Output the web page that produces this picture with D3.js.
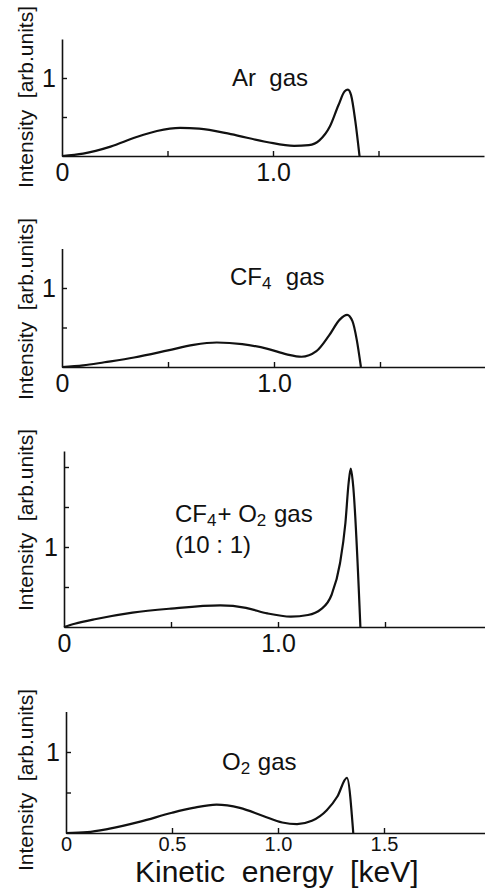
<!DOCTYPE html>
<html>
<head>
<meta charset="utf-8">
<script src="https://cdn.jsdelivr.net/npm/d3@7"></script>
<style>
	body { margin: 0; background: #fff; }
	text { font-family: "Liberation Sans", Arial, sans-serif; fill: #111; }
</style>
</head>
<body>
<div id="chart"></div>
<script>
// spectra: [kinetic energy keV, intensity arb.units]
const arGas = [[0,0],[0.1,0.03],[0.23,0.12],[0.35,0.24],[0.45,0.32],[0.56,0.36],[0.65,0.35],[0.8,0.28],[0.97,0.18],[1.1,0.13],[1.17,0.14],[1.22,0.2],[1.27,0.38],[1.31,0.65],[1.34,0.83],[1.355,0.85],[1.37,0.78],[1.39,0.45],[1.41,0]];
const cf4Gas = [[0,0],[0.1,0.02],[0.2,0.06],[0.34,0.12],[0.5,0.21],[0.62,0.28],[0.73,0.31],[0.85,0.29],[0.97,0.23],[1.06,0.16],[1.13,0.13],[1.2,0.2],[1.26,0.4],[1.31,0.6],[1.345,0.66],[1.37,0.58],[1.39,0.35],[1.41,0]];
const cf4o2Gas = [[0,0],[0.05,0.04],[0.15,0.1],[0.32,0.18],[0.5,0.23],[0.73,0.27],[0.85,0.24],[0.95,0.17],[1.06,0.13],[1.14,0.15],[1.2,0.22],[1.25,0.4],[1.29,0.8],[1.315,1.3],[1.33,1.8],[1.34,1.98],[1.35,1.8],[1.385,0]];
const o2Gas = [[0,0],[0.1,0.01],[0.2,0.05],[0.35,0.14],[0.5,0.25],[0.6,0.31],[0.71,0.35],[0.82,0.31],[0.93,0.21],[1.02,0.13],[1.09,0.11],[1.16,0.15],[1.23,0.28],[1.28,0.45],[1.325,0.68],[1.355,0]];

const xTicks = [0, 0.5, 1.0, 1.5];
const xLabelsShort = ['0', '', '1.0', ''];
const xLabelsFull = ['0', '0.5', '1.0', '1.5'];
const yTicks = [0.5, 1];
const yTicksTall = [0.5, 1, 1.5, 2];
const yLabel = 'Intensity  [arb.units]';
const xTitle = 'Kinetic  energy  [keV]';

const width = 485;
const height = 893;

const svg = d3.select('#chart')
	.append('svg')
	.attr('width', width)
	.attr('height', height);

// one entry per panel: where it sits on the page
const panels = [
	{ data: arGas, x0: 62, x1: 484, base: 156, unit: 78, yMax: 1.5, yt: yTicks, xl: xLabelsShort, fs: 25, pad: 7, labelY: 97,
	  title: [['Ar  gas']], tx: 232, ty: 86 },
	{ data: cf4Gas, x0: 62, x1: 486, base: 367, unit: 79, yMax: 1.5, yt: yTicks, xl: xLabelsShort, fs: 25, pad: 7, labelY: 309,
	  title: [['CF'], ['4', 'sub'], ['  gas']], tx: 230, ty: 285 },
	{ data: cf4o2Gas, x0: 64, x1: 492, base: 627, unit: 80, yMax: 2.2, yt: yTicksTall, xl: xLabelsShort, fs: 25, pad: 7, labelY: 520,
	  title: [['CF'], ['4', 'sub'], ['+ O'], ['2', 'sub'], [' gas']], tx: 175, ty: 522, title2: '(10 : 1)' },
	{ data: o2Gas, x0: 66, x1: 490, base: 833, unit: 81, yMax: 1.5, yt: yTicks, xl: xLabelsFull, fs: 20, pad: 4, labelY: 780,
	  title: [['O'], ['2', 'sub'], [' gas']], tx: 222, ty: 770 }
];

panels.forEach(p => {
	const x = d3.scaleLinear().domain([0, 2]).range([p.x0, p.x1]);
	const y = d3.scaleLinear().domain([0, p.yMax]).range([p.base, p.base - p.unit * p.yMax]);
	const g = svg.append('g');

	const xAxis = d3.axisBottom(x)
		.tickValues(xTicks)
		.tickFormat((d, i) => p.xl[i])
		.tickSizeInner(-5)
		.tickSizeOuter(0)
		.tickPadding(p.pad);

	const gx = g.append('g')
		.attr('transform', `translate(0,${p.base})`)
		.call(xAxis);
	gx.select('.domain').attr('stroke', '#111').attr('stroke-width', 1.6);
	gx.selectAll('.tick line').attr('stroke', '#111').attr('stroke-width', 1.4)
		.filter(d => d === 0).remove();
	gx.selectAll('.tick text')
		.attr('fill', '#111')
		.style('font-size', p.fs + 'px')
		.attr('dy', '0.72em');

	const yAxis = d3.axisLeft(y)
		.tickValues(p.yt)
		.tickFormat(d => d === 1 ? '1' : '')
		.tickSizeInner(-5)
		.tickSizeOuter(0)
		.tickPadding(6);

	const gy = g.append('g')
		.attr('transform', `translate(${p.x0},0)`)
		.call(yAxis);
	gy.select('.domain').attr('stroke', '#111').attr('stroke-width', 1.6);
	gy.selectAll('.tick line').attr('stroke', '#111').attr('stroke-width', 1.4);
	gy.selectAll('.tick text')
		.attr('fill', '#111')
		.style('font-size', '25px');

	const line = d3.line()
		.x(d => x(d[0]))
		.y(d => y(d[1]))
		.curve(d3.curveMonotoneX);

	g.append('path')
		.datum(p.data)
		.attr('d', line)
		.attr('fill', 'none')
		.attr('stroke', '#111')
		.attr('stroke-width', 2.2)
		.attr('stroke-linejoin', 'round');

	// rotated y label
	g.append('text')
		.attr('transform', `translate(33,${p.labelY}) rotate(-90)`)
		.attr('text-anchor', 'middle')
		.attr('xml:space', 'preserve')
		.style('font-size', '21px')
		.text(yLabel);

	const t = g.append('text')
		.attr('x', p.tx)
		.attr('y', p.ty)
		.style('font-size', '24px')
		.attr('xml:space', 'preserve');
	p.title.forEach((part, i) => {
		const s = t.append('tspan').text(part[0]);
		if (part[1] === 'sub') {
			s.style('font-size', '17px').attr('dy', 4);
		} else if (i > 0) {
			s.attr('dy', -4).attr('dx', 1);
		}
	});

	if (p.title2) {
		g.append('text')
			.attr('x', p.tx)
			.attr('y', p.ty + 31)
			.style('font-size', '24px')
			.attr('xml:space', 'preserve')
			.text(p.title2);
	}
});

svg.append('text')
	.attr('x', 135)
	.attr('y', 882)
	.style('font-size', '30px')
	.attr('xml:space', 'preserve')
	.text(xTitle);
</script>
</body>
</html>
